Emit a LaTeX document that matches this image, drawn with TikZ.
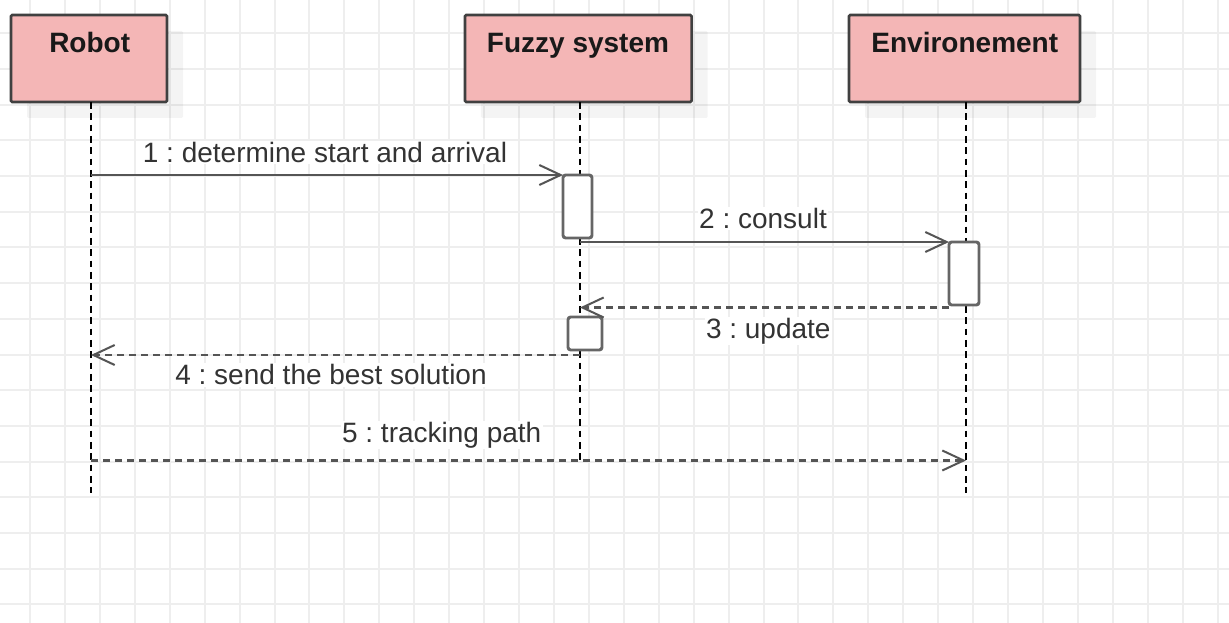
\documentclass[tikz,border=0pt]{standalone}
\usepackage{fontspec}
\setmainfont{Liberation Sans}
\frenchspacing
\usetikzlibrary{arrows.meta,shadows}
\definecolor{hdrfill}{HTML}{F4B6B6}
\definecolor{hdrdraw}{HTML}{404040}
\definecolor{gridc}{HTML}{EEEEEE}
\definecolor{msgc}{HTML}{555555}
\definecolor{actc}{HTML}{666666}
\definecolor{labc}{HTML}{333333}
\begin{document}
\begin{tikzpicture}[x=0.75pt,y=-0.75pt,
  gridline/.style={draw=gridc,line width=1.5pt},
  header/.style={draw=hdrdraw,fill=hdrfill,line width=2pt,rounded corners=1pt,
    minimum height=65.25pt,inner sep=0pt,
    drop shadow={shadow xshift=12pt,shadow yshift=-12pt,fill=black,opacity=0.045}},
  hdrtext/.style={font=\fontsize{21}{25}\selectfont\bfseries,text=black!90,anchor=base,inner sep=0pt},
  lifeline/.style={draw=black,line width=1.5pt,dash pattern=on 5pt off 3.5pt},
  activation/.style={draw=actc,fill=white,line width=2.2pt,rounded corners=2pt,inner sep=0pt,outer sep=0pt},
  msg/.style={draw=msgc,line width=2pt,-{Straight Barb[length=16pt,width=15pt,line width=1.5pt]}},
  reply/.style={msg,dash pattern=on 5.25pt off 3.75pt},
  msglabel/.style={font=\fontsize{21}{25}\selectfont,text=labc,fill=white,inner sep=1pt,anchor=base}
]
\useasboundingbox (0,0) rectangle (1229,623);
\fill[white] (0,0) rectangle (1229,623);

% background grid
\foreach \i in {0,...,34} \draw[gridline] ({30+34.93*\i},0) -- ({30+34.93*\i},623);
\foreach \j in {0,...,16} \draw[gridline] (0,{33.3+35.7*\j}) -- (1229,{33.3+35.7*\j});

% participants
\node[header,minimum width=117pt]    (robot) at (89,58.5)   {};
\node[header,minimum width=170pt]    (fuzzy) at (578.3,58.5) {};
\node[header,minimum width=173.25pt] (env)   at (964.5,58.5) {};
\node[hdrtext] (robotname) at (89.7,53)  {Robot};
\node[hdrtext] (fuzzyname) at (578,53)   {Fuzzy system};
\node[hdrtext] (envname)   at (964.8,53) {Environement};

% lifelines
\coordinate (robotTop) at (91,102);   \coordinate (robotEnd) at (91,493);
\coordinate (fuzzyTop) at (580,102);  \coordinate (fuzzyEnd) at (580,460.5);
\coordinate (envTop)   at (966,102);  \coordinate (envEnd)   at (966,493);
\draw[lifeline] (robotTop) -- (robotEnd);
\draw[lifeline] (fuzzyTop) -- (fuzzyEnd);
\draw[lifeline] (envTop) -- (envEnd);

% activation bars
\node[activation,minimum width=21.75pt,minimum height=47.25pt] (act1) at (577.5,206.5) {};
\node[activation,minimum width=22.5pt,minimum height=47.25pt]  (act2) at (964,273.5)  {};
\node[activation,minimum width=25.5pt,minimum height=24.75pt]  (act3) at (585,333.5)  {};

% message end points on the lifelines
\coordinate (m1s) at (91,175);
\coordinate (m2s) at (580,242);
\coordinate (m3s) at (949,307.5);
\coordinate (m3e) at (580,307.5);
\coordinate (m4s) at (580,355);
\coordinate (m4e) at (91,355);
\coordinate (m5s) at (91,460.5);
\coordinate (m5e) at (966,460.5);

% messages
\draw[msg]   (m1s) -- (act1.north west);
\draw[msg]   (m2s) -- (act2.north west);
\draw[reply] (m3s) -- (m3e);
\draw[reply] (m4s) -- (m4e);
\draw[reply] (m5s) -- (m5e);

% message labels
\node[msglabel] (l1) at (325,162.3)   {1 : determine start and arrival};
\node[msglabel] (l2) at (763,228.3)   {2 : consult};
\node[msglabel] (l3) at (768.3,338.3) {3 : update};
\node[msglabel] (l4) at (331,385)     {4 : send the best solution};
\node[msglabel] (l5) at (441.7,442.3) {5 : tracking path};
\end{tikzpicture}
\end{document}
